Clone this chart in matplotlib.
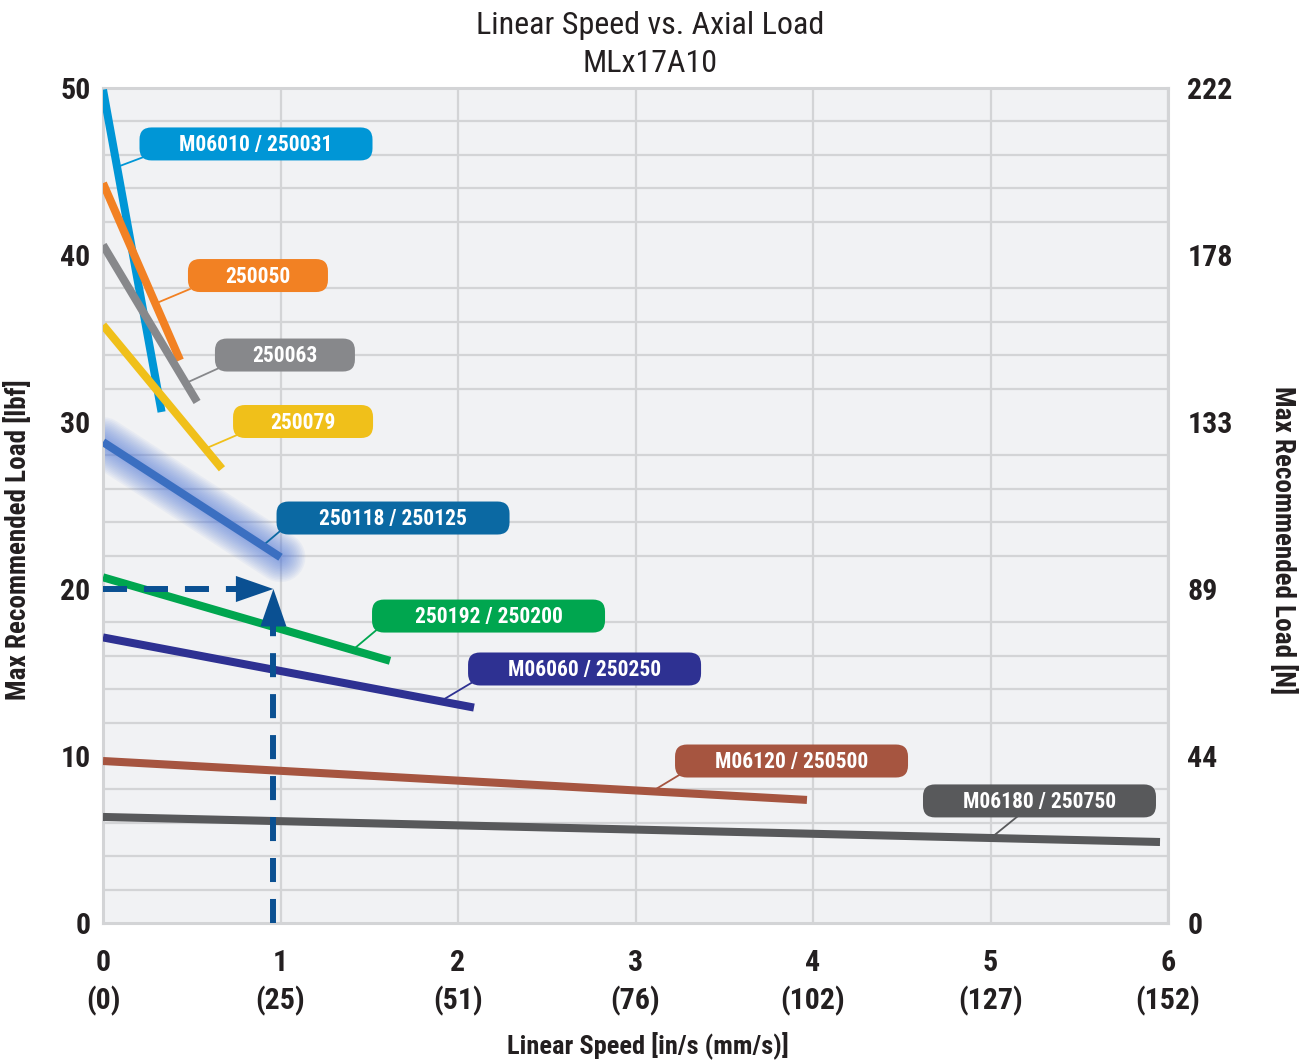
import matplotlib
matplotlib.use("Agg")
import matplotlib.pyplot as plt
from matplotlib.patches import FancyBboxPatch
import matplotlib.transforms as mtransforms

plt.rcParams['font.family'] = ['Roboto Condensed', 'Barlow Condensed', 'DejaVu Sans']
plt.rcParams['lines.scale_dashes'] = False

# ---------------- data ----------------
series_names = ["M06010 / 250031", "250050", "250063", "250079", "250118 / 250125",
                "250192 / 250200", "M06060 / 250250", "M06120 / 250500", "M06180 / 250750"]
speed_start = [0, 0, 0, 0, 0, 0, 0, 0, 0]
speed_end = [0.33, 0.434, 0.53, 0.67, 1.0, 1.617, 2.09, 3.966, 5.955]
load_start = [49.9, 44.3, 40.6, 35.8, 28.8, 20.7, 17.1, 9.7, 6.35]
load_end = [30.6, 33.7, 31.2, 27.2, 21.9, 15.7, 12.9, 7.37, 4.85]

x_ticks = [0, 1, 2, 3, 4, 5, 6]
x_ticklabels = ["0\n(0)", "1\n(25)", "2\n(51)", "3\n(76)", "4\n(102)", "5\n(127)", "6\n(152)"]
y_ticks = [0, 10, 20, 30, 40, 50]
y_ticklabels_lbf = ["0", "10", "20", "30", "40", "50"]
y_ticklabels_n = ["0", "44", "89", "133", "178", "222"]

example_speed = 0.96
example_load = 20

# ---------------- style / layout ----------------
line_colors = ["#0096d6", "#f28123", "#87888b", "#f0c01a", "#3b6fc1",
               "#00a64f", "#2e3192", "#a65540", "#58595b"]
box_colors = ["#0096d6", "#f28123", "#87888b", "#f0c01a", "#0b69a3",
              "#00a64f", "#2e3192", "#a65540", "#58595b"]
box_centers = [(0.862, 46.65), (0.873, 38.77), (1.025, 34.01), (1.127, 30.03), (1.634, 24.25),
               (2.172, 18.38), (2.713, 15.21), (3.879, 9.70), (5.276, 7.31)]
box_widths = [2.33, 1.40, 1.40, 1.40, 2.33, 2.33, 2.33, 2.33, 2.33]  # inches
box_h = 0.33
conn_t = [0.24, 0.68, 0.88, 0.86, 0.90, 0.87, 0.91, 0.78, 0.84]
conn_dx = [0.03, 0.02, 0.03, 0.04, 0.03, 0.05, 0.04, 0.05, 0.97]  # inches from box left

W, H = 1306, 1061
fig = plt.figure(figsize=(W / 100, H / 100), dpi=100)
ax = fig.add_axes([103 / W, 1 - 923 / H, (1168 - 103) / W, (923 - 88) / H])
ax.set_facecolor("#f1f2f4")
ax.set_xlim(0, 6)
ax.set_ylim(0, 50)

txt_c = "#231f20"
grid_c = "#d3d4d6"
for s in ax.spines.values():
    s.set_color(grid_c)
    s.set_linewidth(2.2)
ax.set_xticks(x_ticks)
ax.set_xticklabels(x_ticklabels, fontsize=21.5, fontweight="bold", color=txt_c, linespacing=1.35)
ax.set_yticks(y_ticks)
ax.set_yticklabels(y_ticklabels_lbf, fontsize=21.5, fontweight="bold", color=txt_c)
ax.set_yticks(range(0, 51, 2), minor=True)
ax.tick_params(axis="both", which="both", length=0)
ax.tick_params(axis="x", pad=19)
ax.tick_params(axis="y", pad=9)
ax.grid(True, which="major", axis="x", color=grid_c, lw=1.6)
ax.grid(True, which="minor", axis="y", color=grid_c, lw=1.6)
ax.set_axisbelow(True)

ax2 = ax.twinx()
ax2.set_ylim(0, 50)
ax2.set_yticks(y_ticks)
ax2.set_yticklabels(y_ticklabels_n, fontsize=21.5, fontweight="bold", color=txt_c)
ax2.tick_params(axis="y", length=0, pad=14)
for s in ax2.spines.values():
    s.set_visible(False)

# glow for highlighted series
gi = 4
for k in range(14):
    ax.plot([speed_start[gi], speed_end[gi]], [load_start[gi], load_end[gi]],
            color="#4f78d8", lw=6 + k * 2.3, alpha=0.06, solid_capstyle="round", zorder=2)

# dashed example lines
dash_c = "#0a5092"
ax.plot([0, example_speed - 0.205], [example_load, example_load], color=dash_c, lw=4.3,
        dashes=(17.3, 12.2), dash_capstyle="butt", zorder=6)
ax.plot([example_speed, example_speed], [0, example_load - 2.0], color=dash_c, lw=4.3,
        dashes=(17.3, 12.2), dash_capstyle="butt", zorder=6)
ax.annotate("", xy=(example_speed, example_load), xytext=(example_speed - 0.22, example_load),
            arrowprops=dict(arrowstyle="-|>,head_length=1.35,head_width=0.47", mutation_scale=20,
                            color=dash_c, lw=0, shrinkA=0, shrinkB=0), zorder=7)
ax.annotate("", xy=(example_speed, example_load), xytext=(example_speed, example_load - 2.2),
            arrowprops=dict(arrowstyle="-|>,head_length=1.35,head_width=0.47", mutation_scale=20,
                            color=dash_c, lw=0, shrinkA=0, shrinkB=0), zorder=7)

# series lines
for i in range(len(series_names)):
    ax.plot([speed_start[i], speed_end[i]], [load_start[i], load_end[i]], color=line_colors[i],
            lw=5.8, solid_capstyle="butt", zorder=4)

# label boxes with connectors
for i, name in enumerate(series_names):
    cx, cy = box_centers[i]
    w = box_widths[i]
    trans = fig.dpi_scale_trans + mtransforms.ScaledTranslation(cx, cy, ax.transData)
    box = FancyBboxPatch((-w / 2, -box_h / 2), w, box_h,
                         boxstyle="round,pad=0,rounding_size=0.12",
                         fc=box_colors[i], ec="none", transform=trans, zorder=8, clip_on=False)
    ax.add_patch(box)
    ax.text(0, -0.012, name, transform=trans, ha="center", va="center", color="white",
            fontsize=15.5, fontweight="bold", zorder=9)
    t = conn_t[i]
    px = speed_start[i] + t * (speed_end[i] - speed_start[i])
    py = load_start[i] + t * (load_end[i] - load_start[i])
    corner = trans.transform((-w / 2 + conn_dx[i], -box_h / 2 + 0.03))
    cxd, cyd = ax.transData.inverted().transform(corner)
    ax.plot([px, cxd], [py, cyd], color=box_colors[i], lw=1.3, zorder=3)

# titles and labels
fig.text(650 / W, 1 - 26 / H, "Linear Speed vs. Axial Load", ha="center", va="center",
         fontsize=23, color=txt_c)
fig.text(650 / W, 1 - 64 / H, "MLx17A10", ha="center", va="center", fontsize=23, color=txt_c)
fig.text(648 / W, 1 - 1046 / H, "Linear Speed [in/s (mm/s)]", ha="center", va="center",
         fontsize=19, fontweight="bold", color=txt_c)
fig.text(18 / W, 1 - 540 / H, "Max Recommended Load [lbf]", ha="center", va="center",
         rotation=90, fontsize=19.5, fontweight="bold", color=txt_c)
fig.text(1283 / W, 1 - 540 / H, "Max Recommended Load [N]", ha="center", va="center",
         rotation=-90, fontsize=19.5, fontweight="bold", color=txt_c)

fig.savefig("out.png", dpi=100, facecolor="white")
